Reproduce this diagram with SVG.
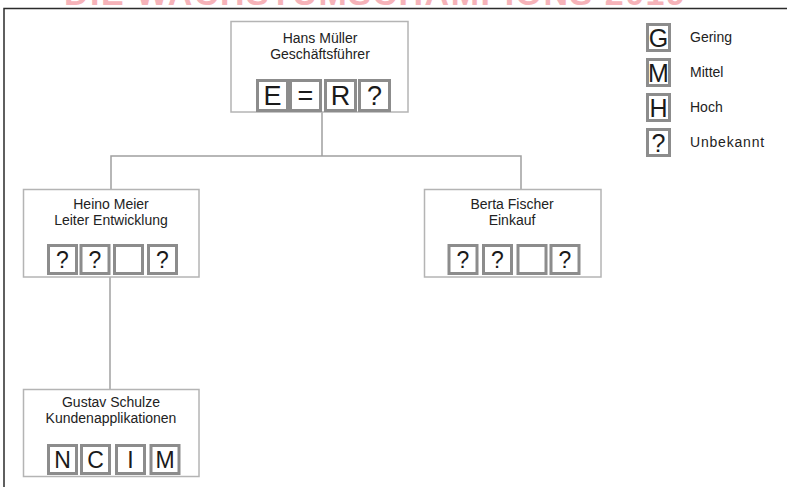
<svg xmlns="http://www.w3.org/2000/svg" width="787" height="487" viewBox="0 0 787 487">
  <style>
    .frame { fill: none; stroke: #2b2b2b; stroke-width: 1.5; }
    .node { fill: #ffffff; stroke: #b4b4b4; stroke-width: 1.5; }
    .link { fill: none; stroke: #a0a0a0; stroke-width: 1.5; }
    .cell { fill: #ffffff; stroke: #8c8c8c; stroke-width: 3; }
    .name { font-family: "Liberation Sans", Arial, sans-serif; font-size: 14px; fill: #222222; text-anchor: middle; }
    .mark { font-family: "Liberation Sans", Arial, sans-serif; font-size: 23px; fill: #1a1a1a; text-anchor: middle; }
    .mark.big { font-size: 27px; }
    .mark.key { font-size: 25px; }
    .label { font-family: "Liberation Sans", Arial, sans-serif; font-size: 14px; fill: #222222; }
    .banner { font-family: "Liberation Sans", Arial, sans-serif; font-size: 34px; font-weight: bold; fill: #f6b3b9; letter-spacing: 1.5px; }
  </style>

  <rect width="787" height="487" fill="#ffffff"/>

  <!-- banner lettering running off the top edge -->
  <text class="banner" x="64" y="5">DIE WACHSTUMSCHAMPIONS 2019</text>

  <!-- page frame: top and left rules only -->
  <path class="frame" d="M4,487 V8.5 H787"/>

  <!-- connectors -->
  <g id="connectors">
    <path class="link" d="M322,112 V156 M111,189.5 V156 H521 V189.5"/>
    <path class="link" d="M110,277 V389.5"/>
  </g>

  <!-- managing director -->
  <g id="node-mueller">
    <rect class="node" x="231" y="21.5" width="177" height="90.5"/>
    <text class="name" x="320" y="43">Hans Müller</text>
    <text class="name" x="320" y="59">Geschäftsführer</text>
    <rect class="cell" x="257.5" y="80.5" width="30" height="30"/>
    <rect class="cell" x="290.5" y="80.5" width="30" height="30"/>
    <rect class="cell" x="325.5" y="80.5" width="30" height="30"/>
    <rect class="cell" x="359.5" y="80.5" width="30" height="30"/>
    <text class="mark big" x="272.5" y="105">E</text>
    <text class="mark big" x="305.5" y="105">=</text>
    <text class="mark big" x="340.5" y="105">R</text>
    <text class="mark big" x="374.5" y="105">?</text>
  </g>

  <!-- head of development -->
  <g id="node-meier">
    <rect class="node" x="23.5" y="189.5" width="175.5" height="87.5"/>
    <text class="name" x="111" y="209">Heino Meier</text>
    <text class="name" x="111" y="225">Leiter Entwicklung</text>
    <rect class="cell" x="48.5" y="245.5" width="28" height="28"/>
    <rect class="cell" x="81" y="245.5" width="28" height="28"/>
    <rect class="cell" x="114.5" y="245.5" width="28" height="28"/>
    <rect class="cell" x="148.5" y="245.5" width="28" height="28"/>
    <text class="mark" x="62.5" y="267.5">?</text>
    <text class="mark" x="95" y="267.5">?</text>
    <text class="mark" x="162.5" y="267.5">?</text>
  </g>

  <!-- purchasing -->
  <g id="node-fischer">
    <rect class="node" x="424.5" y="189.5" width="176.5" height="87.5"/>
    <text class="name" x="512" y="209">Berta Fischer</text>
    <text class="name" x="512" y="225">Einkauf</text>
    <rect class="cell" x="449" y="245.5" width="28" height="28"/>
    <rect class="cell" x="483.5" y="245.5" width="28" height="28"/>
    <rect class="cell" x="518" y="245.5" width="28" height="28"/>
    <rect class="cell" x="551" y="245.5" width="28" height="28"/>
    <text class="mark" x="463" y="267.5">?</text>
    <text class="mark" x="497.5" y="267.5">?</text>
    <text class="mark" x="565" y="267.5">?</text>
  </g>

  <!-- customer applications -->
  <g id="node-schulze">
    <rect class="node" x="23.5" y="389.5" width="175.5" height="87"/>
    <text class="name" x="111" y="407">Gustav Schulze</text>
    <text class="name" x="111" y="423">Kundenapplikationen</text>
    <rect class="cell" x="48.5" y="445.5" width="28" height="28"/>
    <rect class="cell" x="81.5" y="445.5" width="28" height="28"/>
    <rect class="cell" x="116.5" y="445.5" width="28" height="28"/>
    <rect class="cell" x="151" y="445.5" width="28" height="28"/>
    <text class="mark" x="62.5" y="467.5">N</text>
    <text class="mark" x="95.5" y="467.5">C</text>
    <text class="mark" x="130.5" y="467.5">I</text>
    <text class="mark" x="165" y="467.5">M</text>
  </g>

  <!-- legend -->
  <g id="legend">
    <rect class="cell" x="647.5" y="24.5" width="22" height="26"/>
    <rect class="cell" x="647.5" y="59.5" width="22" height="26"/>
    <rect class="cell" x="647.5" y="94.5" width="22" height="26"/>
    <rect class="cell" x="647.5" y="129.5" width="22" height="26"/>
    <text class="mark key" x="658.5" y="46.5">G</text>
    <text class="mark key" x="658.5" y="81.5">M</text>
    <text class="mark key" x="658.5" y="116.5">H</text>
    <text class="mark key" x="658.5" y="151.5">?</text>
    <text class="label" x="690" y="42">Gering</text>
    <text class="label" x="690" y="77">Mittel</text>
    <text class="label" x="690" y="112">Hoch</text>
    <text class="label" x="690" y="147" letter-spacing="0.8">Unbekannt</text>
  </g>
</svg>
